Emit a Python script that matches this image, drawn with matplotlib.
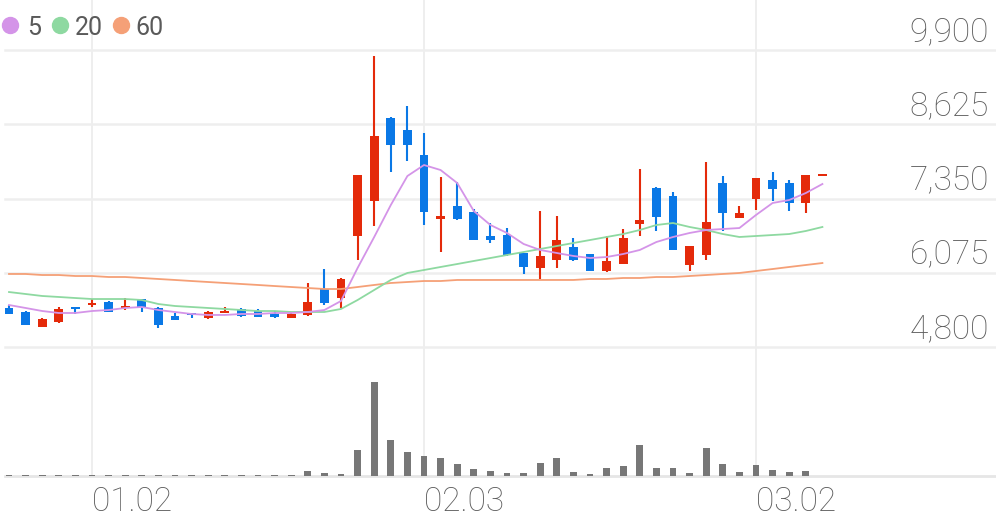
import numpy as np
import matplotlib.pyplot as plt
from matplotlib import transforms
from matplotlib.lines import Line2D

# daily candles (price, KRW)
opens = [5470, 5400, 5140, 5230, 5490, 5520, 5570, 5470, 5620, 5470,
         5330, 5380, 5300, 5380, 5450, 5420, 5370, 5300, 5350, 5800,
         5640, 6710, 7310, 8730, 8530, 8100, 7000, 7220, 7120, 6710,
         6720, 6410, 6160, 6290, 6520, 6400, 6110, 6230, 6910, 7530,
         7390, 6210, 6380, 7620, 7020, 7340, 7670, 7620, 7270, 7740]
closes = [5370, 5180, 5280, 5450, 5450, 5550, 5400, 5490, 5490, 5180,
          5260, 5350, 5400, 5400, 5330, 5310, 5310, 5370, 5570, 5560,
          5970, 7750, 8420, 8270, 8270, 7120, 7050, 7000, 6640, 6640,
          6380, 6170, 6360, 6640, 6290, 6110, 6280, 6670, 6980, 7030,
          6470, 6530, 6950, 7100, 7100, 7700, 7510, 7270, 7750, 7740]
highs = [5520, 5410, 5300, 5490, 5490, 5620, 5590, 5640, 5630, 5490,
         5380, 5390, 5420, 5490, 5470, 5450, 5420, 5400, 5900, 6140,
         5990, 7760, 9800, 8750, 8940, 8480, 7720, 7630, 7170, 6930,
         6840, 6420, 7140, 7050, 6670, 6400, 6710, 6830, 7860, 7540,
         7460, 6540, 7980, 7740, 7220, 7710, 7810, 7670, 7760, 7740]
lows = [5360, 5170, 5140, 5210, 5370, 5490, 5400, 5440, 5400, 5130,
        5260, 5300, 5280, 5380, 5310, 5310, 5300, 5290, 5340, 5520,
        5470, 6290, 6880, 7800, 7990, 6900, 6430, 6980, 6630, 6590,
        6370, 6050, 5970, 6160, 6280, 6100, 6090, 6220, 6710, 6790,
        6470, 6110, 6290, 6790, 7010, 7150, 7310, 7140, 7100, 7740]

# volume (thousand shares)
volumes = [10, 10, 10, 10, 8, 8, 6, 10, 10, 8, 6, 6, 6, 6, 6, 6, 6, 6,
           50, 30, 20, 260, 940, 360, 240, 200, 180, 120, 70, 50, 30, 30,
           130, 180, 40, 20, 80, 100, 310, 80, 80, 30, 280, 120, 40, 110,
           60, 40, 50, 0]

# moving averages
ma5 = [5521, 5470, 5418, 5384, 5384, 5418, 5435, 5470, 5487, 5435,
       5401, 5367, 5350, 5350, 5367, 5367, 5384, 5384, 5401, 5435,
       5590, 6157, 6689, 7238, 7736, 7925, 7839, 7616, 7135, 6895,
       6758, 6569, 6466, 6414, 6363, 6328, 6345, 6397, 6466, 6603,
       6689, 6758, 6809, 6826, 6843, 7067, 7273, 7324, 7444, 7599]
ma20 = [5744, 5710, 5676, 5659, 5641, 5624, 5624, 5624, 5607, 5538,
        5504, 5487, 5470, 5453, 5435, 5418, 5418, 5401, 5401, 5401,
        5453, 5607, 5779, 5951, 6071, 6122, 6174, 6225, 6277, 6328,
        6380, 6431, 6483, 6534, 6586, 6637, 6689, 6740, 6809, 6895,
        6929, 6861, 6809, 6740, 6689, 6706, 6723, 6740, 6792, 6861]
ma60 = [6054, 6054, 6036, 6036, 6019, 6019, 6002, 6002, 5985, 5968,
        5951, 5933, 5916, 5899, 5882, 5865, 5847, 5830, 5813, 5796,
        5796, 5830, 5865, 5899, 5916, 5933, 5933, 5951, 5951, 5951,
        5951, 5951, 5951, 5951, 5951, 5968, 5968, 5985, 5985, 6002,
        6002, 6019, 6036, 6054, 6071, 6105, 6139, 6174, 6208, 6242]

price_ticks = [4800, 6075, 7350, 8625, 9900]
date_labels = ["01.02", "02.03", "03.02"]
date_idx = [5, 25, 45]
ma_labels = ["5", "20", "60"]
ma_colors = ["#d494e8", "#8ed9a1", "#f5a077"]

UP = "#e42a0a"
DOWN = "#0a78e6"
GRID = "#eeeeee"
TXT = "#5c5c5c"

plt.rcParams['font.family'] = ['Roboto', 'DejaVu Sans']

W, H = 996, 519
fig = plt.figure(figsize=(W / 100, H / 100), dpi=100)
ax = fig.add_axes([0, 1 - 352 / H, 1, 352 / H])
axv = fig.add_axes([0, 1 - 476 / H, 1, 124 / H])

x = np.arange(len(opens))
o = np.array(opens)
c = np.array(closes)
colors = [UP if cc >= oo else DOWN for oo, cc in zip(o, c)]

for a in (ax, axv):
    a.set_xlim(-9 / 16.6, (W - 9) / 16.6)
    a.axis('off')
    for i in date_idx:
        a.axvline(i, color=GRID, lw=1.4, zorder=0)

# price panel
ax.set_ylim(4800 - 5 * 17.172, 4800 + 347 * 17.172)
for p in price_ticks:
    ax.axhline(p, xmin=0.005, color=GRID, lw=1.8, zorder=0)
    ax.annotate(f"{p:,}", xy=(0.993, p), xycoords=('axes fraction', 'data'),
                xytext=(0, 6.5), textcoords='offset points', ha='right',
                va='baseline', fontsize=24, color=TXT, fontweight='light')

ax.vlines(x, lows, highs, colors=colors, lw=1.5, zorder=2)
body = np.maximum(np.abs(c - o), 30)
ax.bar(x, body, bottom=np.minimum(o, c), width=0.54, color=colors, zorder=3)

for ma, col in zip([ma60, ma20, ma5], ma_colors[::-1]):
    ax.plot(x, ma, color=col, lw=1.3, zorder=4)

# volume panel
axv.set_ylim(0, 1240)
axv.bar(x, volumes, width=0.42, color="#777777", zorder=2)
axv.axhline(0, xmin=0.005, color="#e6e6e6", lw=2, zorder=1, clip_on=False)

tr = transforms.blended_transform_factory(axv.transData, fig.transFigure)
for i, lab in zip(date_idx, date_labels):
    axv.text(i, 1 - 511 / H, lab, transform=tr, ha='left', va='baseline',
             fontsize=24, color=TXT, fontweight='light')

# legend
for cx, tx, lab, col in zip([10, 60, 121], [27, 75, 135], ma_labels, ma_colors):
    fig.add_artist(Line2D([cx / W], [1 - 25 / H], marker='o', markersize=11.5,
                          color=col, transform=fig.transFigure))
    fig.text(tx / W, 1 - 35 / H, lab, ha='left', va='baseline',
             fontsize=18, color="#5a5a5a")

fig.savefig("out.png", dpi=100)
